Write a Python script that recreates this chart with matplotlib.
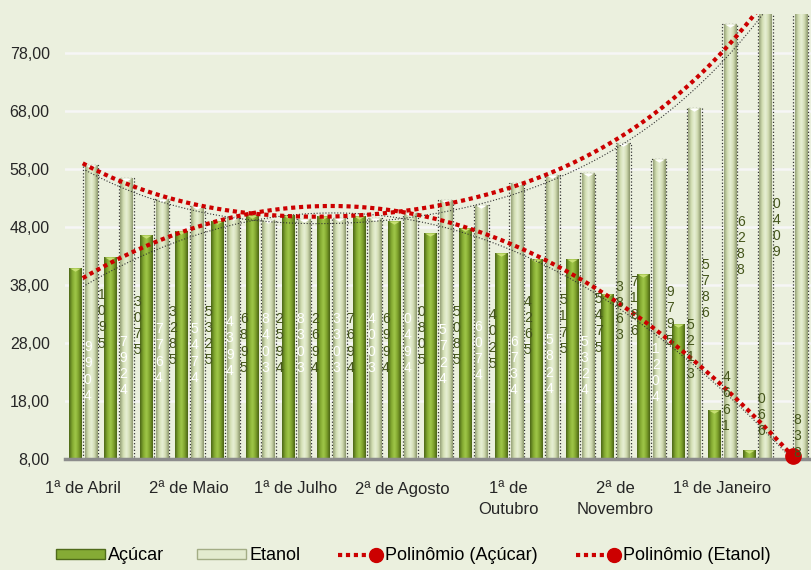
import numpy as np
import matplotlib
matplotlib.use('Agg')
import matplotlib.pyplot as plt
from matplotlib.colors import LinearSegmentedColormap
from matplotlib.patches import Patch
from matplotlib.lines import Line2D
from matplotlib.legend_handler import HandlerLine2D
from matplotlib.transforms import ScaledTranslation

plt.rcParams['font.family'] = ['Liberation Sans', 'DejaVu Sans']

# dados (21 quinzenas)
rotulos_x = ['1ª de Abril', '2ª de Maio', '1ª de Julho', '2ª de Agosto',
             '1ª de\nOutubro', '2ª de\nNovembro', '1ª de Janeiro']
acucar = [40.9, 42.8, 46.6, 47.3, 49.1, 50.0, 50.1, 49.9, 49.9, 49.0, 47.0,
          47.8, 43.6, 42.4, 42.4, 36.4, 39.9, 31.2, 16.4, 9.6, 7.0]
etanol = [58.7, 56.5, 52.8, 51.7, 49.8, 49.2, 49.3, 49.5, 49.6, 50.4, 52.7,
          51.8, 55.6, 57.0, 57.3, 62.4, 59.7, 68.6, 83.0, 88.0, 96.0]
# linha de tendencia do etanol (valor em cada quinzena)
tend_etanol_lida = [59.3, 55.8, 53.5, 52.1, 50.8, 50.4, 50.0, 49.9, 50.1, 50.8,
                    51.8, 53.1, 54.5, 56.8, 59.2, 62.7, 67.3, 72.3, 78.9, 84.6]

# rotulos de dados empilhados (texto vertical do Excel)
rot_brancos = ['9\n9\n0\n4', '7\n9\n2\n4', '7\n7\n6\n4', '5\n4\n7\n4', '4\n3\n9\n4',
               '8\n4\n0\n3', '8\n3\n0\n3', '3\n3\n0\n3', '4\n0\n0\n3', '0\n4\n9\n4',
               '5\n7\n2\n4', '6\n0\n7\n4', '6\n7\n3\n4', '5\n8\n2\n4', '5\n3\n2\n4',
               None, '1\n2\n0\n4']
rot_escuros = ['1\n0\n9\n5', '3\n0\n7\n5', '3\n2\n8\n5', '5\n3\n2\n5', '6\n8\n9\n5',
               '2\n5\n9\n4', '2\n6\n9\n4', '7\n6\n9\n4', '6\n9\n9\n4', '0\n8\n0\n5',
               '5\n0\n8\n5', '4\n0\n2\n5', '4\n2\n6\n5', '5\n1\n7\n5', '5\n4\n7\n5',
               '7\n1\n8\n6', '9\n7\n9\n5', '5\n7\n8\n6', '6\n2\n8\n8', '0\n4\n0\n9']
rot_extra = {15: '3\n8\n6\n3', 17: '5\n2\n1\n3', 18: '4\n6\n6\n1', 19: '0\n6\n6', 20: '8\n3\n8'}
y_brancos = [28.5, 29.4, 31.6, 31.6, 32.8, 33.3, 33.3, 33.3, 33.3, 33.3,
             31.4, 32.0, 29.4, 29.7, 29.4, None, 28.2]
y_escuros = [37.5, 36.3, 34.6, 34.6, 33.3, 33.3, 33.3, 33.3, 33.3, 34.6,
             34.6, 34.0, 36.3, 36.6, 36.8, 39.7, 38.0, 42.7, 50.1, 53.2]
y_extra = {15: 38.9, 17: 32.3, 18: 23.3, 19: 19.6, 20: 15.9}

fundo = '#ebf0de'
vermelho = '#cc0000'
cmap_verde = LinearSegmentedColormap.from_list(
    'verde', ['#4a6516', '#82a830', '#a0c84a', '#7fa32d', '#4a6314'])
cmap_claro = LinearSegmentedColormap.from_list(
    'claro', ['#95a078', '#d3dfb3', '#e8f0d6', '#cfdaaf', '#8a956c'])

fig = plt.figure(figsize=(8.11, 5.7), dpi=100, facecolor=fundo)
ax = fig.add_axes([65 / 811, 1 - 459 / 570, 745.5 / 811, 445 / 570])
ax.set_facecolor(fundo)

x = np.arange(len(acucar))
ymin, ymax = 8, 8 + 445 / 5.8
ax.set_xlim(-0.5, len(x) - 0.5)
ax.set_ylim(ymin, ymax)
larg = 0.34
grad = np.linspace(0, 1, 64).reshape(1, -1)


def barras(xs, hs, cmap, z):
    bars = ax.bar(xs, hs, larg, color='none', zorder=z)
    for b in bars:
        if b.get_height() <= ymin:
            continue
        x0 = b.get_x()
        im = ax.imshow(grad, cmap=cmap, aspect='auto', interpolation='bicubic',
                       extent=[x0, x0 + b.get_width(), ymin, min(b.get_height(), ymax)],
                       zorder=z)
        im.set_clip_path(b)
    return bars


# contorno pontilhado das barras de etanol
ax.bar(x + 0.225, etanol, 0.41, fill=False, edgecolor='#333333', linestyle=':',
       linewidth=0.9, zorder=2)
barras(x - 0.225, acucar, cmap_verde, 3)
barras(x + 0.225, etanol, cmap_claro, 3)

tampa = [(-1, 0), (1, 0), (0, -0.6), (-1, 0)]
vis = np.array(acucar) > ymin
ax.scatter((x - 0.225)[vis], np.array(acucar)[vis], marker=tampa, s=60, color='#c6df72',
           zorder=4, linewidths=0)
ax.scatter(x + 0.225, etanol, marker=tampa, s=60, color='white', zorder=4, linewidths=0)

# linhas de tendencia polinomial
xt = np.linspace(0, len(x) - 1, 300)
tend_a = np.polyval(np.polyfit(x, acucar, 2), xt)
xe = np.arange(len(tend_etanol_lida))
tend_e = np.polyval(np.polyfit(xe, tend_etanol_lida, 4), xt)
estilo = dict(color=vermelho, lw=3, ls=(0, (1, 0.9)), dash_capstyle='butt', zorder=6)
sombra = ax.transData + ScaledTranslation(2 / 72, -5 / 72, fig.dpi_scale_trans)
for tend in (tend_a, tend_e):
    ax.plot(xt, tend, color='#333333', lw=0.8, ls=':', transform=sombra, zorder=5)
    ax.plot(xt, tend, **estilo)
ax.plot(xt[-1], tend_a[-1], 'o', color=vermelho, ms=11, zorder=7, clip_on=False)

# rotulos empilhados
fs_rot = 10
ls_rot = 1.2
for i, (t, yv) in enumerate(zip(rot_brancos, y_brancos)):
    if t:
        ax.text(i + 0.14, yv, t, color='white', fontsize=fs_rot, ha='center', va='top',
                linespacing=ls_rot, zorder=8)
for i, (t, yv) in enumerate(zip(rot_escuros, y_escuros)):
    ax.text(i + 0.535, yv, t, color='#45561c', fontsize=fs_rot, ha='center', va='top',
            linespacing=ls_rot, zorder=8)
for i, t in rot_extra.items():
    ax.text(i + 0.12, y_extra[i], t, color='#45561c', fontsize=fs_rot, ha='center',
            va='top', linespacing=ls_rot, zorder=8)

ax.set_xlim(-0.5, len(x) - 0.5)
ax.set_ylim(ymin, ymax)
ax.set_yticks(np.arange(8, 80, 10))
ax.set_yticklabels([f'{v:.2f}'.replace('.', ',') for v in np.arange(8, 80, 10)])
ax.set_xticks(np.arange(0, len(x), 3))
ax.set_xticklabels(rotulos_x, linespacing=1.5)
ax.tick_params(axis='y', length=0, pad=11, labelsize=11.5, labelcolor='#262626')
ax.tick_params(axis='x', length=0, pad=16, labelsize=12, labelcolor='#262626')
ax.grid(axis='y', color='#f6f6f6', lw=1.8, zorder=0)
ax.set_axisbelow(True)
for s in ['top', 'right', 'left']:
    ax.spines[s].set_visible(False)
ax.spines['bottom'].set_color('#8c8c8c')
ax.spines['bottom'].set_linewidth(2.5)
ax.spines['bottom'].set_zorder(5)


class HandlerFim(HandlerLine2D):
    # marcador so na ponta direita da amostra da legenda
    def create_artists(self, *args, **kwargs):
        arts = super().create_artists(*args, **kwargs)
        for a in arts:
            a.set_markevery([len(a.get_xdata()) - 1])
        return arts


linha_leg = dict(color=vermelho, lw=3, ls=(0, (1, 0.9)), dash_capstyle='butt',
                 marker='o', ms=10)
handles = [
    Patch(facecolor='#85ab35', edgecolor='#4f6b1a', label='Açúcar'),
    Patch(facecolor='#e3ebcf', edgecolor='#a3ad85', label='Etanol'),
    Line2D([], [], label='Polinômio (Açúcar)', **linha_leg),
    Line2D([], [], label='Polinômio (Etanol)', **linha_leg),
]
fig.legend(handles=handles, loc='center', bbox_to_anchor=(413 / 811, 1 - 556 / 570),
           ncol=4, frameon=False, fontsize=13, numpoints=2, handlelength=2.7,
           handleheight=0.45, handletextpad=0.2, columnspacing=1.8,
           handler_map={Line2D: HandlerFim()})

fig.savefig('out.png', dpi=100, facecolor=fundo)
